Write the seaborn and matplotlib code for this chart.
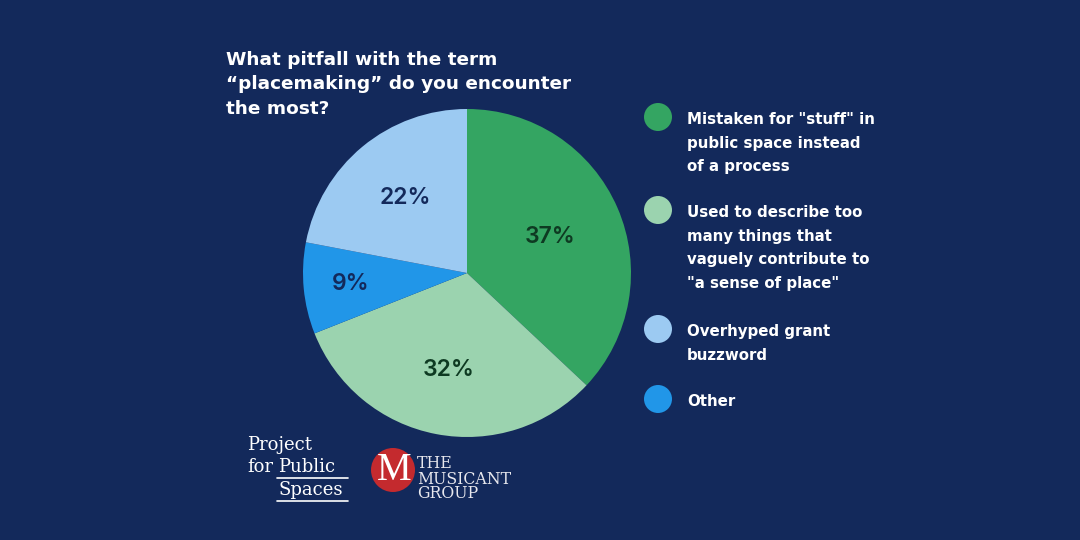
import matplotlib
matplotlib.use("Agg")
import matplotlib.pyplot as plt
import seaborn as sns
import numpy as np
from matplotlib.patches import Circle

# legend order
categories = [
    'Mistaken for "stuff" in\npublic space instead\nof a process',
    'Used to describe too\nmany things that\nvaguely contribute to\n"a sense of place"',
    'Overhyped grant\nbuzzword',
    'Other',
]
values = [37, 32, 22, 9]
colors = ["#34A562", "#9BD3AF", "#9CCAF2", "#2196E8"]
label_colors = ["#0E3A22", "#0E3A22", "#13295B", "#13295B"]
pie_order = [0, 1, 3, 2]          # drawn clockwise from 12 o'clock
label_radius = [0.555, 0.60, 0.59, 0.71]
title = "What pitfall with the term\n\u201cplacemaking\u201d do you encounter\nthe most?"

BG = "#13295B"
sns.set_theme(style="white")
plt.rcParams["font.family"] = ["DejaVu Sans"]

W, H = 1080, 540
fig = plt.figure(figsize=(10.8, 5.4), dpi=100, facecolor=BG)

cx, cy, r = 467, 273, 164
ax = fig.add_axes([(cx - r) / W, (H - cy - r) / H, 2 * r / W, 2 * r / H])
ax.set_facecolor(BG)
pv = [values[i] for i in pie_order]
pc = [colors[i] for i in pie_order]
wedges, _ = ax.pie(pv, colors=pc, startangle=90, counterclock=False,
                   wedgeprops=dict(linewidth=0))
for w, i in zip(wedges, pie_order):
    ang = np.deg2rad((w.theta1 + w.theta2) / 2)
    rr = label_radius[i]
    ax.text(rr * np.cos(ang), rr * np.sin(ang), f"{values[i]}%",
            color=label_colors[i], fontsize=16.5, fontweight="semibold",
            family=["Inter", "DejaVu Sans"], ha="center", va="center")
ax.set_xlim(-1, 1)
ax.set_ylim(-1, 1)
ax.set_aspect("equal")
ax.axis("off")

ov = fig.add_axes([0, 0, 1, 1], facecolor="none")
ov.set_xlim(0, W)
ov.set_ylim(H, 0)
ov.axis("off")

ov.text(226, 51, title, color="white", fontsize=13.3, fontweight="bold",
        va="top", ha="left", linespacing=1.45)

leg_y = [117, 210, 329, 399]
for i, y in enumerate(leg_y):
    ov.add_patch(Circle((658, y), 14, color=colors[i], lw=0))
    ov.text(687, y - 5, categories[i], color="white", fontsize=10.8,
            fontweight="bold", va="top", ha="left", linespacing=1.72)

serif = ["DejaVu Serif"]
kw = dict(color="white", fontsize=13, family=serif, va="center", ha="left")
ov.text(247, 445, "Project", **kw)
ov.text(247, 467, "for", **kw)
ov.text(278, 467, "Public", **kw)
ov.text(278, 490, "Spaces", **kw)
ov.plot([277, 348], [478, 478], color="white", lw=1.2)
ov.plot([277, 348], [501, 501], color="white", lw=1.2)

ov.add_patch(Circle((393, 470), 22, color="#C42A2E", lw=0))
ov.text(394, 471, "M", color="white", fontsize=28, family=["Liberation Serif"],
        va="center", ha="center")
for txt, y in zip(["THE", "MUSICANT", "GROUP"], [463, 479, 494]):
    ov.text(417, y, txt, color="#E8E8EE", fontsize=11.3,
            family=serif, va="center", ha="left")

fig.savefig("out.png", dpi=100, facecolor=BG)
